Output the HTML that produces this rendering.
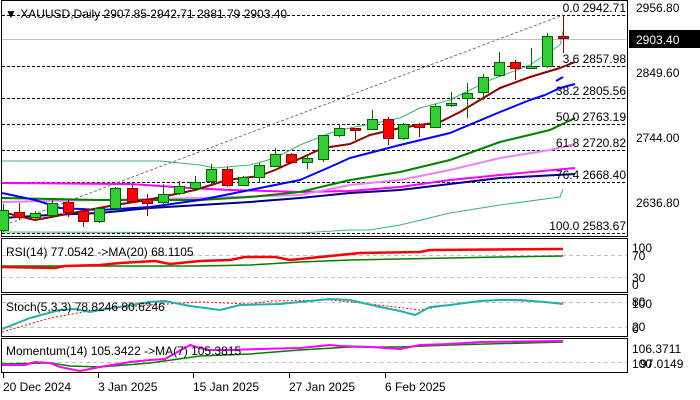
<!DOCTYPE html>
<html><head><meta charset="utf-8"><style>
html,body{margin:0;padding:0;background:#fff;}
svg{display:block;}
text{font-family:"Liberation Sans","DejaVu Sans",sans-serif;font-size:12px;fill:#000;}
</style></head><body>
<svg width="700" height="400" viewBox="0 0 700 400" xmlns="http://www.w3.org/2000/svg">
<rect width="700" height="400" fill="#fff"/>
<!-- main panel -->
<rect x="1.5" y="0.5" width="626" height="236" fill="none" stroke="#000"/>
<line x1="2" y1="39.5" x2="627" y2="39.5" stroke="#c0c0c0"/>
<g stroke="#000" stroke-dasharray="3,2" stroke-width="1">
<line x1="2" y1="15.5" x2="627" y2="15.5"/>
<line x1="2" y1="66.5" x2="627" y2="66.5"/>
<line x1="2" y1="98.5" x2="627" y2="98.5"/>
<line x1="2" y1="124.5" x2="627" y2="124.5"/>
<line x1="2" y1="150.5" x2="627" y2="150.5"/>
<line x1="2" y1="182.5" x2="627" y2="182.5"/>
<line x1="2" y1="233.5" x2="627" y2="233.5"/>
</g>
<line x1="5" y1="225" x2="563" y2="15" stroke="#777" stroke-dasharray="3,2"/>
<g fill="none" stroke-linejoin="round">
<polyline stroke="#3cb371" stroke-width="1" points="2,161 160,161 200,165 215,168 250,165 275,158 300,145 330,133 350,128 400,118 420,108 450,100 490,80 530,65 560,45 563,31"/>
<polyline stroke="#3cb371" stroke-width="1" points="2,232 300,233 350,230 370,230 400,225 450,213 500,205 560,197 563,189"/>
<polyline stroke="#000080" stroke-width="2" points="2,218 50,215 100,213 150,208 200,205 250,202 300,198 350,193 400,190 450,184 500,178 575,174"/>
<polyline stroke="#ff00ff" stroke-width="2" points="2,183 130,184 190,188 230,190 300,192 350,191 400,187 450,180 500,175 575,168"/>
<polyline stroke="#ee82ee" stroke-width="2" points="2,202 100,200 200,198 300,195 350,185 400,180 450,170 500,158 550,150 575,144"/>
<polyline stroke="#008000" stroke-width="2" points="2,198 100,200 200,200 250,197 300,192 350,180 400,172 450,160 500,142 550,130 575,118"/>
<polyline stroke="#0000ff" stroke-width="2" points="2,193 35,200 60,208 100,210 150,207 200,200 250,190 300,180 330,167 350,158 400,145 450,133 500,112 530,100 545,95 560,88 575,84"/>
<polyline stroke="#0000ff" stroke-width="2" points="556,81 563,77"/>
<polyline stroke="#8b0000" stroke-width="2" points="2,212 35,220 115,205 147,200 195,190 227,180 259,176 275,170 323,148 350,144 370,135 400,128 440,122 460,112 500,88 530,77 560,68 575,62"/>
</g>
<g id="candles" stroke-width="1"></g>
<text x="5" y="18" font-size="13">▼ XAUUSD,Daily  2907.85 2942.71 2881.79 2903.40</text>
<g text-anchor="end" font-size="13">
<text x="626" y="12">0.0 2942.71</text>
<text x="626" y="63">3.6 2857.98</text>
<text x="626" y="95">38.2 2805.56</text>
<text x="626" y="121">50.0 2763.19</text>
<text x="626" y="147">61.8 2720.82</text>
<text x="626" y="179">76.4 2668.40</text>
<text x="626" y="230">100.0 2583.67</text>
</g>
<g font-size="13">
<text x="636" y="12">2956.80</text>
<text x="636" y="77">2849.60</text>
<text x="636" y="142">2744.00</text>
<text x="636" y="207">2636.80</text>
<rect x="629" y="30" width="71" height="18" fill="#000"/>
<text x="636" y="44" fill="#fff" style="fill:#fff">2903.40</text>
</g>
<!-- RSI -->
<rect x="1.5" y="238.5" width="626" height="54" fill="none" stroke="#000"/>
<g stroke="#c0c0c0" stroke-dasharray="4,3"><line x1="2" y1="255.5" x2="627" y2="255.5"/><line x1="2" y1="277.5" x2="627" y2="277.5"/></g>
<polyline fill="none" stroke="#008000" stroke-width="1.5" points="2,266 100,266 200,266 250,265 300,262 350,260 400,259 500,257 563,256"/>
<polyline fill="none" stroke="#ff0000" stroke-width="2.5" points="2,267 55,268 65,266 100,265 120,263 155,261 170,264 200,261 230,260 245,257 275,257 290,260 310,258 330,256 360,253 420,252 430,250 563,249"/>
<text x="6" y="256">RSI(14) 77.0542  -&gt;MA(20) 68.1105</text>
<g font-size="12"><text x="632" y="252">100</text><text x="632" y="260">70</text><text x="632" y="282">30</text><text x="632" y="289">0</text></g>
<!-- Stoch -->
<rect x="1.5" y="294.5" width="626" height="42" fill="none" stroke="#000"/>
<g stroke="#c0c0c0" stroke-dasharray="4,3"><line x1="2" y1="302.5" x2="627" y2="302.5"/><line x1="2" y1="327.5" x2="627" y2="327.5"/></g>
<polyline fill="none" stroke="#ff0000" stroke-width="1" stroke-dasharray="2,2" points="2,332 50,318 100,309 150,305 200,302 250,304 270,301 330,300 370,304 420,310 460,303 500,300 563,303"/>
<polyline fill="none" stroke="#20b2aa" stroke-width="2" points="2,329 30,318 60,310 75,309 90,312 100,310 150,302 165,301 190,306 220,310 240,305 280,304 330,299 350,300 380,307 400,311 415,315 430,307 450,305 480,301 500,300 520,300 545,302 563,304"/>
<text x="6" y="311">Stoch(5,3,3) 78.8246 80.6246</text>
<g><text x="632" y="306">80</text><text x="632" y="308">100</text><text x="632" y="331">20</text><text x="632" y="333">0</text></g>
<!-- Momentum -->
<rect x="1.5" y="338.5" width="626" height="34" fill="none" stroke="#000"/>
<line x1="2" y1="362.5" x2="627" y2="362.5" stroke="#c0c0c0" stroke-dasharray="4,3"/>
<polyline fill="none" stroke="#008000" stroke-width="1.5" points="2,364 50,363 70,366 100,367 150,363 200,356 250,354 300,350 350,347 400,347 450,345 563,342"/>
<polyline fill="none" stroke="#ff00ff" stroke-width="2" points="2,365 25,365 35,362 50,363 60,367 80,371 100,367 130,362 150,360 165,359 190,345 200,348 210,350 230,350 260,349 300,348 330,345 340,346 370,347 400,349 420,345 450,344 480,342 563,341"/>
<text x="6" y="355">Momentum(14) 105.3422  -&gt;MA(7) 105.3815</text>
<g><text x="632" y="353">106.3711</text><text x="632" y="368">100</text><text x="640" y="368">97.0149</text></g>
<!-- dates -->
<g stroke="#000"><line x1="3.5" y1="373" x2="3.5" y2="378"/><line x1="98.5" y1="373" x2="98.5" y2="378"/><line x1="193.5" y1="373" x2="193.5" y2="378"/><line x1="289.5" y1="373" x2="289.5" y2="378"/><line x1="385.5" y1="373" x2="385.5" y2="378"/></g>
<g font-size="13"><text x="3" y="391">20 Dec 2024</text><text x="98" y="391">3 Jan 2025</text><text x="193" y="391">15 Jan 2025</text><text x="289" y="391">27 Jan 2025</text><text x="385" y="391">6 Feb 2025</text></g>
</svg>
<script>
var d=[[3,1,210,230,204,232],[19,0,212,217,203,220],[35,1,213,217,211,219],[52,1,203,215,200,217],[68,0,202,212,200,217],[83,0,211,221,208,227],[99,1,208,221,207,223],[115,1,188,208,187,210],[132,0,188,201,185,202],[147,0,199,203,194,216],[163,1,194,202,184,205],[179,1,186,193,181,195],[195,1,182,188,176,190],[211,1,169,181,164,185],[227,0,169,185,167,187],[243,1,177,185,176,186],[259,1,165,177,163,182],[275,1,154,166,148,167],[291,0,154,162,153,163],[307,1,158,162,154,169],[323,1,135,159,135,162],[339,1,128,135,124,137],[355,0,128,130,128,140],[372,1,119,129,110,130],[388,0,119,138,117,145],[403,1,124,138,123,140],[419,0,124,127,123,137],[435,1,106,127,104,128],[451,1,103,105,92,107],[467,1,93,98,83,118],[483,1,77,92,74,100],[499,1,62,75,52,77],[515,0,62,68,60,80],[531,1,66,67,48,68],[547,1,36,66,33,68],[563,0,36,38,15,53]];
var g=document.getElementById('candles'),ns='http://www.w3.org/2000/svg',h='';
d.forEach(function(c){var col=c[1]?'#006400':'#8b0000',fill=c[1]?'#32cd32':'#ff0000';
h+='<line x1="'+(c[0]+.5)+'" y1="'+c[4]+'" x2="'+(c[0]+.5)+'" y2="'+c[5]+'" stroke="'+col+'"/>';
var ht=Math.max(c[3]-c[2],2);h+='<rect x="'+(c[0]-4.5)+'" y="'+(c[2]+.5)+'" width="10" height="'+ht+'" fill="'+fill+'" stroke="'+col+'"/>';});
g.innerHTML=h;
</script>
</body></html>
